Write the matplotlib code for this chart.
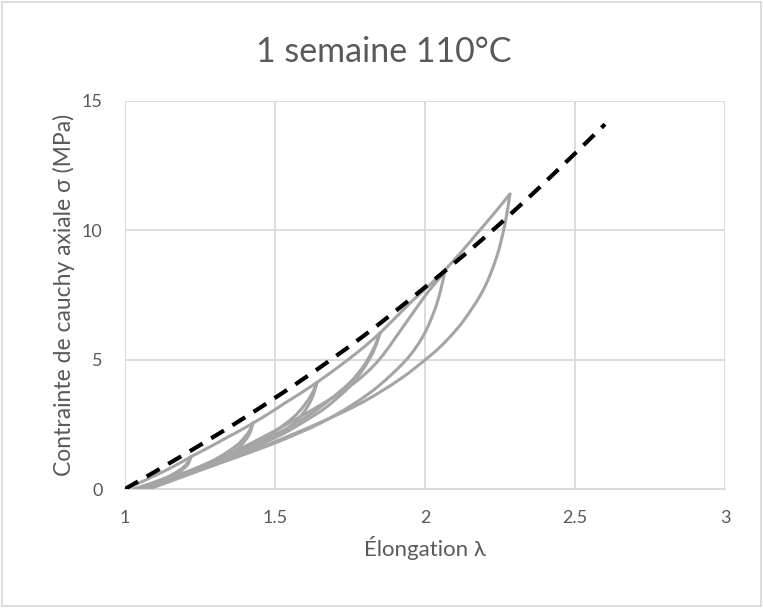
import matplotlib
matplotlib.use('Agg')
import numpy as np
import matplotlib.pyplot as plt
from matplotlib.patches import Rectangle, PathPatch
from matplotlib.path import Path

plt.rcParams['font.family'] = ['Lato', 'DejaVu Sans']

# dashed model curve
lam_model = [1.0, 1.2, 1.4, 1.6, 1.8, 2.0, 2.2, 2.4, 2.6]
sig_model = [0.0, 1.35, 2.77, 4.30, 5.96, 7.80, 9.74, 11.86, 14.1]

# cyclic test: for each strain level a reload (up to the previous max),
# a virgin part (up to the new max) and an unload
lam_virgin_1 = [1.00, 1.05, 1.10, 1.16, 1.22]
sig_virgin_1 = [0.0, 0.25, 0.52, 0.86, 1.25]
lam_unload_1 = [1.22, 1.213, 1.206, 1.195, 1.178, 1.141, 1.115, 1.089, 1.057, 1.03]
sig_unload_1 = [1.25, 1.03, 0.90, 0.78, 0.64, 0.43, 0.31, 0.21, 0.09, 0.0]

lam_reload_2 = [1.03, 1.057, 1.089, 1.115, 1.141, 1.162, 1.178, 1.195, 1.206, 1.213, 1.217, 1.22]
sig_reload_2 = [0.0, 0.10, 0.23, 0.34, 0.46, 0.59, 0.70, 0.85, 0.98, 1.09, 1.18, 1.25]
lam_virgin_2 = [1.22, 1.28, 1.34, 1.385, 1.427]
sig_virgin_2 = [1.25, 1.61, 1.99, 2.27, 2.55]
lam_unload_2 = [1.427, 1.421, 1.413, 1.398, 1.377, 1.341, 1.309, 1.266, 1.213, 1.159, 1.095, 1.04]
sig_unload_2 = [2.55, 2.32, 2.09, 1.84, 1.58, 1.30, 1.10, 0.87, 0.64, 0.42, 0.19, 0.0]

lam_reload_3 = [1.04, 1.095, 1.159, 1.213, 1.266, 1.309, 1.341, 1.377, 1.398, 1.413, 1.421, 1.427]
sig_reload_3 = [0.0, 0.20, 0.46, 0.69, 0.94, 1.20, 1.43, 1.73, 1.99, 2.22, 2.40, 2.55]
lam_virgin_3 = [1.427, 1.48, 1.53, 1.585, 1.64]
sig_virgin_3 = [2.55, 2.92, 3.30, 3.70, 4.12]
lam_unload_3 = [1.64, 1.631, 1.618, 1.596, 1.564, 1.510, 1.461, 1.395, 1.313, 1.232, 1.133, 1.05]
sig_unload_3 = [4.12, 3.75, 3.38, 2.97, 2.55, 2.10, 1.77, 1.40, 1.03, 0.68, 0.31, 0.0]

lam_reload_4 = [1.05, 1.133, 1.232, 1.313, 1.395, 1.461, 1.510, 1.564, 1.596, 1.618, 1.631, 1.64]
sig_reload_4 = [0.0, 0.33, 0.74, 1.11, 1.52, 1.94, 2.31, 2.80, 3.21, 3.58, 3.87, 4.12]
lam_virgin_4 = [1.64, 1.70, 1.75, 1.80, 1.85]
sig_virgin_4 = [4.12, 4.62, 5.06, 5.52, 6.03]
lam_unload_4 = [1.85, 1.838, 1.821, 1.792, 1.748, 1.675, 1.610, 1.521, 1.412, 1.303, 1.171, 1.06]
sig_unload_4 = [6.03, 5.60, 5.15, 4.60, 3.95, 3.20, 2.70, 2.10, 1.53, 1.00, 0.45, 0.0]

lam_reload_5 = [1.06, 1.171, 1.303, 1.412, 1.521, 1.610, 1.675, 1.748, 1.792, 1.821, 1.838, 1.85]
sig_reload_5 = [0.0, 0.48, 1.09, 1.63, 2.23, 2.83, 3.38, 4.10, 4.70, 5.25, 5.67, 6.03]
lam_virgin_5 = [1.85, 1.91, 1.96, 2.015, 2.067]
sig_virgin_5 = [6.03, 6.72, 7.30, 7.88, 8.47]
lam_unload_5 = [2.067, 2.052, 2.030, 1.993, 1.938, 1.847, 1.764, 1.652, 1.515, 1.377, 1.211, 1.07]
sig_unload_5 = [8.47, 7.67, 6.85, 5.90, 5.00, 4.00, 3.30, 2.55, 1.85, 1.25, 0.58, 0.0]

lam_reload_6 = [1.07, 1.211, 1.377, 1.515, 1.652, 1.764, 1.847, 1.938, 1.993, 2.030, 2.052, 2.067]
sig_reload_6 = [0.0, 0.68, 1.52, 2.35, 3.25, 4.10, 5.00, 6.45, 7.35, 7.90, 8.20, 8.47]
lam_virgin_6 = [2.067, 2.12, 2.175, 2.23, 2.283]
sig_virgin_6 = [8.47, 9.15, 9.90, 10.65, 11.4]
lam_unload_6 = [2.283, 2.267, 2.239, 2.194, 2.128, 2.07, 2.017, 1.917, 1.783, 1.617, 1.45, 1.25, 1.08]
sig_unload_6 = [11.4, 10.27, 8.98, 7.69, 6.50, 5.72, 5.15, 4.25, 3.30, 2.40, 1.60, 0.72, 0.0]

segments = [
    (lam_virgin_1, sig_virgin_1), (lam_unload_1, sig_unload_1),
    (lam_reload_2, sig_reload_2), (lam_virgin_2, sig_virgin_2), (lam_unload_2, sig_unload_2),
    (lam_reload_3, sig_reload_3), (lam_virgin_3, sig_virgin_3), (lam_unload_3, sig_unload_3),
    (lam_reload_4, sig_reload_4), (lam_virgin_4, sig_virgin_4), (lam_unload_4, sig_unload_4),
    (lam_reload_5, sig_reload_5), (lam_virgin_5, sig_virgin_5), (lam_unload_5, sig_unload_5),
    (lam_reload_6, sig_reload_6), (lam_virgin_6, sig_virgin_6), (lam_unload_6, sig_unload_6),
]


def smooth(xs, ys):
    # smoothed line like Excel: Catmull-Rom through the points as cubic Beziers
    p = np.column_stack([xs, ys]).astype(float)
    n = len(p)
    verts = [p[0]]
    codes = [Path.MOVETO]
    for i in range(n - 1):
        p0 = p[max(i - 1, 0)]
        p1 = p[i]
        p2 = p[i + 1]
        p3 = p[min(i + 2, n - 1)]
        verts += [p1 + (p2 - p0) / 6, p2 - (p3 - p1) / 6, p2]
        codes += [Path.CURVE4] * 3
    return Path(verts, codes)


txt = '#595959'
grid = '#D9D9D9'

fig = plt.figure(figsize=(7.63, 6.08), dpi=100)
ax = fig.add_axes([0.1638, 0.1957, 0.7864, 0.6382])

for xs, ys in segments:
    ax.add_patch(PathPatch(smooth(xs, ys), fill=False, edgecolor='#A5A5A5', lw=2.2,
                           joinstyle='round', capstyle='round', zorder=3))

ax.add_patch(PathPatch(smooth(lam_model, sig_model), fill=False, edgecolor='black', lw=3.0,
                       linestyle=(0, (3.6, 2.4)), capstyle='butt', zorder=4))

ax.set_xlim(1, 3)
ax.set_ylim(0, 15)
ax.set_xticks([1, 1.5, 2, 2.5, 3])
ax.set_xticklabels(['1', '1.5', '2', '2.5', '3'])
ax.set_yticks([0, 5, 10, 15])
ax.grid(True, color=grid, lw=1.3)
ax.set_axisbelow(True)
for s in ['top', 'right', 'left']:
    ax.spines[s].set_visible(False)
ax.spines['bottom'].set_color(grid)
ax.spines['bottom'].set_linewidth(1.3)
ax.tick_params(length=0, labelsize=13, colors=txt)
ax.tick_params(axis='x', pad=15)
ax.tick_params(axis='y', pad=16)

ax.set_xlabel('Élongation λ', fontsize=16, color=txt, labelpad=7)
ax.set_ylabel('Contrainte de cauchy axiale σ (MPa)', fontsize=16.5, color=txt, labelpad=5)
fig.text(0.503, 0.915, '1 semaine 110°C', fontsize=24.5, color=txt, ha='center', va='center')

fig.patches.append(Rectangle((0.003, 0.003), 0.994, 0.994, transform=fig.transFigure,
                             fill=False, edgecolor=grid, lw=1.3))

fig.savefig('out.png', dpi=100)
